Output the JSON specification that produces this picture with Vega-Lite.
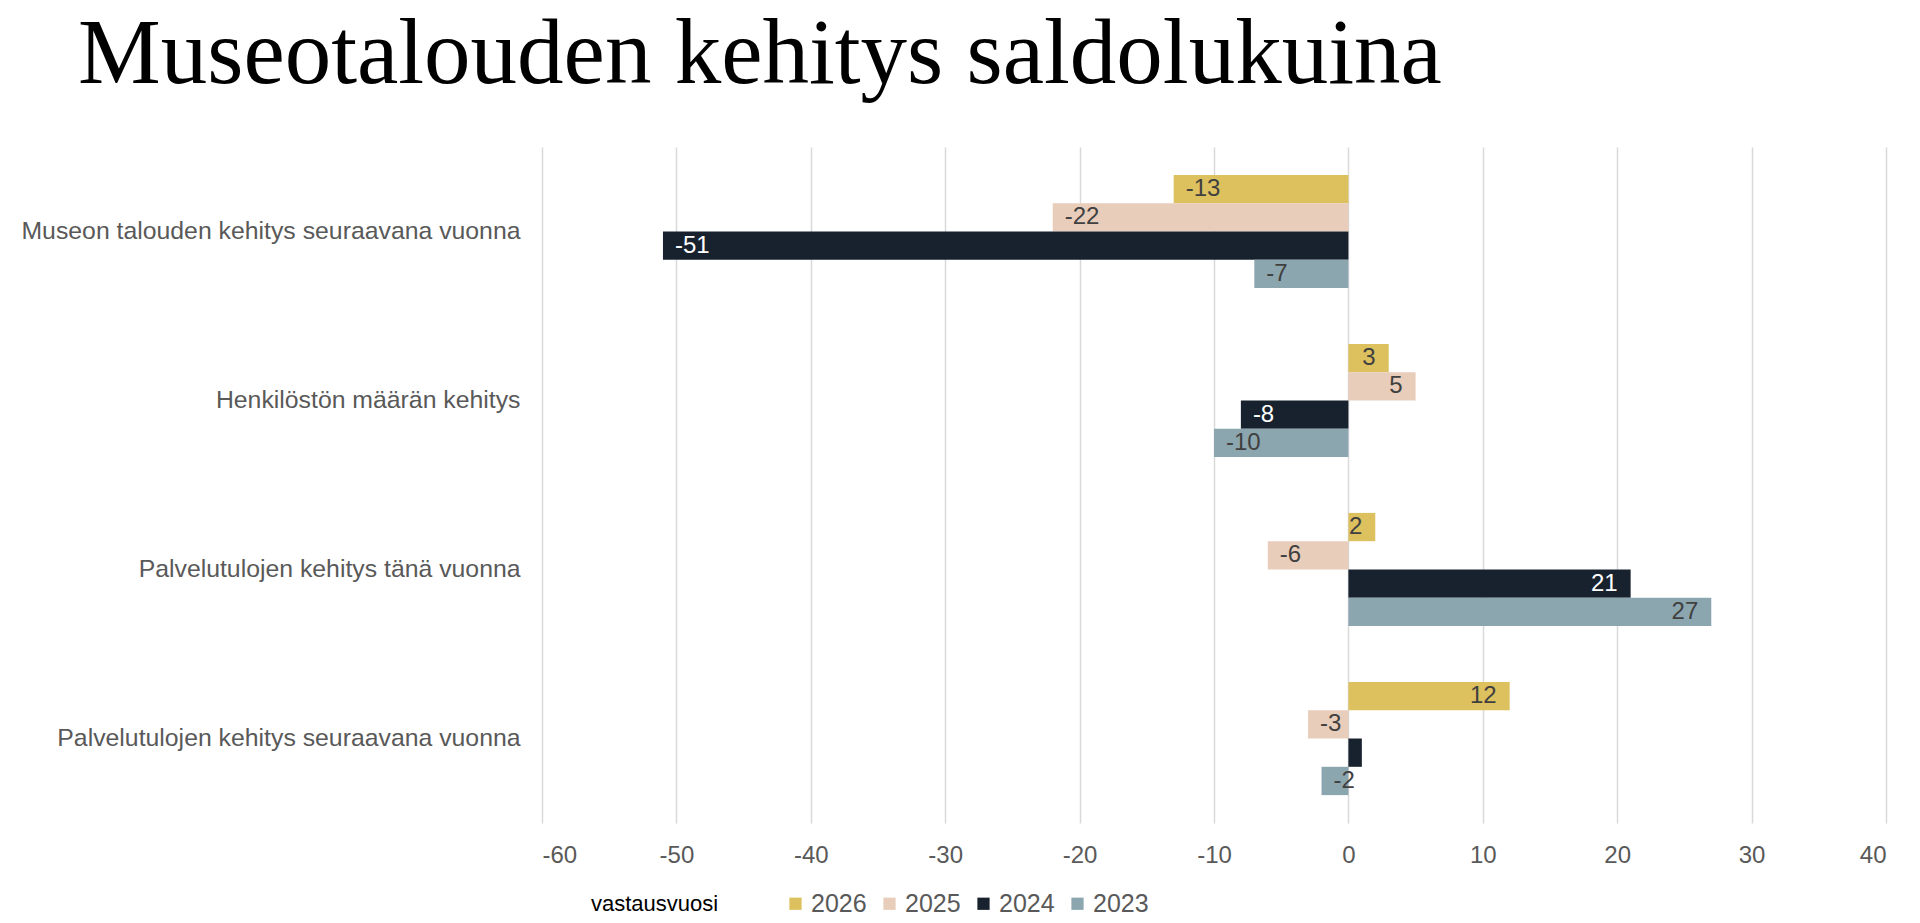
{
  "$schema": "https://vega.github.io/schema/vega-lite/v6.json",
  "autosize": "none",
  "width": 1344,
  "height": 676,
  "padding": {"left": 542, "top": 147, "right": 34, "bottom": 100},
  "background": "white",
  "config": {
    "view": {"stroke": null},
    "locale": {
      "number": {
        "decimal": ",",
        "thousands": " ",
        "grouping": [3],
        "currency": ["", " €"],
        "minus": "-"
      }
    }
  },
  "title": {
    "text": "Museotalouden kehitys saldolukuina",
    "anchor": "start",
    "frame": "group",
    "orient": "top",
    "baseline": "alphabetic",
    "offset": 67,
    "dx": -464,
    "dy": 96,
    "font": "Liberation Serif",
    "fontSize": 93,
    "fontWeight": "normal",
    "color": "#000000"
  },
  "data": {
    "values": [
      {"kysymys": "Museon talouden kehitys seuraavana vuonna", "vuosi": "2026", "saldo": -13},
      {"kysymys": "Museon talouden kehitys seuraavana vuonna", "vuosi": "2025", "saldo": -22},
      {"kysymys": "Museon talouden kehitys seuraavana vuonna", "vuosi": "2024", "saldo": -51},
      {"kysymys": "Museon talouden kehitys seuraavana vuonna", "vuosi": "2023", "saldo": -7},
      {"kysymys": "Henkilöstön määrän kehitys", "vuosi": "2026", "saldo": 3},
      {"kysymys": "Henkilöstön määrän kehitys", "vuosi": "2025", "saldo": 5},
      {"kysymys": "Henkilöstön määrän kehitys", "vuosi": "2024", "saldo": -8},
      {"kysymys": "Henkilöstön määrän kehitys", "vuosi": "2023", "saldo": -10},
      {"kysymys": "Palvelutulojen kehitys tänä vuonna", "vuosi": "2026", "saldo": 2},
      {"kysymys": "Palvelutulojen kehitys tänä vuonna", "vuosi": "2025", "saldo": -6},
      {"kysymys": "Palvelutulojen kehitys tänä vuonna", "vuosi": "2024", "saldo": 21},
      {"kysymys": "Palvelutulojen kehitys tänä vuonna", "vuosi": "2023", "saldo": 27},
      {"kysymys": "Palvelutulojen kehitys seuraavana vuonna", "vuosi": "2026", "saldo": 12},
      {"kysymys": "Palvelutulojen kehitys seuraavana vuonna", "vuosi": "2025", "saldo": -3},
      {"kysymys": "Palvelutulojen kehitys seuraavana vuonna", "vuosi": "2024", "saldo": 1},
      {"kysymys": "Palvelutulojen kehitys seuraavana vuonna", "vuosi": "2023", "saldo": -2}
    ]
  },
  "encoding": {
    "y": {
      "field": "kysymys",
      "type": "nominal",
      "sort": null,
      "title": null,
      "scale": {"paddingInner": 0.33, "paddingOuter": 0.165},
      "axis": {
        "ticks": false,
        "domain": false,
        "grid": false,
        "labelFont": "Liberation Sans",
        "labelFontSize": 24.8,
        "labelColor": "#595959",
        "labelPadding": 22,
        "labelLimit": 700
      }
    },
    "yOffset": {
      "field": "vuosi",
      "type": "nominal",
      "sort": ["2026", "2025", "2024", "2023"]
    },
    "x": {
      "field": "saldo",
      "type": "quantitative",
      "title": null,
      "scale": {"domain": [-60, 40], "nice": false, "zero": false},
      "axis": {
        "values": [-60, -50, -40, -30, -20, -10, 0, 10, 20, 30, 40],
        "format": "d",
        "ticks": false,
        "domain": false,
        "grid": true,
        "gridColor": "#d9d9d9",
        "gridWidth": 1.5,
        "labelFont": "Liberation Sans",
        "labelFontSize": 24,
        "labelColor": "#595959",
        "labelPadding": 20
      }
    }
  },
  "layer": [
    {
      "mark": {"type": "bar", "cornerRadius": 0},
      "encoding": {
        "color": {
          "field": "vuosi",
          "type": "nominal",
          "scale": {
            "domain": ["2026", "2025", "2024", "2023"],
            "range": ["#DCC15E", "#E8CDBB", "#18222F", "#8CA6AF"]
          },
          "legend": {
            "title": "vastausvuosi",
            "orient": "none",
            "legendX": 49,
            "legendY": 744,
            "direction": "horizontal",
            "titleOrient": "left",
            "titleFont": "Liberation Sans",
            "titleFontSize": 22,
            "titleFontWeight": "normal",
            "titleColor": "#000000",
            "titlePadding": 64,
            "titleBaseline": "middle",
            "labelFont": "Liberation Sans",
            "labelFontSize": 25,
            "labelColor": "#595959",
            "labelOffset": 3,
            "symbolType": "square",
            "symbolSize": 150,
            "symbolStrokeWidth": 0,
            "symbolOpacity": 1,
            "columnPadding": 10
          }
        }
      }
    },
    {
      "transform": [{"filter": "datum.saldo != 1"}],
      "mark": {
        "type": "text",
        "font": "Liberation Sans",
        "fontSize": 24,
        "baseline": "middle",
        "align": {"expr": "datum.saldo < 0 ? 'left' : 'right'"},
        "dx": {"expr": "datum.saldo < 0 ? 12 : -13"}
      },
      "encoding": {
        "text": {"field": "saldo", "type": "quantitative", "format": "d"},
        "color": {
          "condition": {"test": "datum.vuosi == '2024'", "value": "#ffffff"},
          "value": "#404040"
        }
      }
    }
  ]
}
